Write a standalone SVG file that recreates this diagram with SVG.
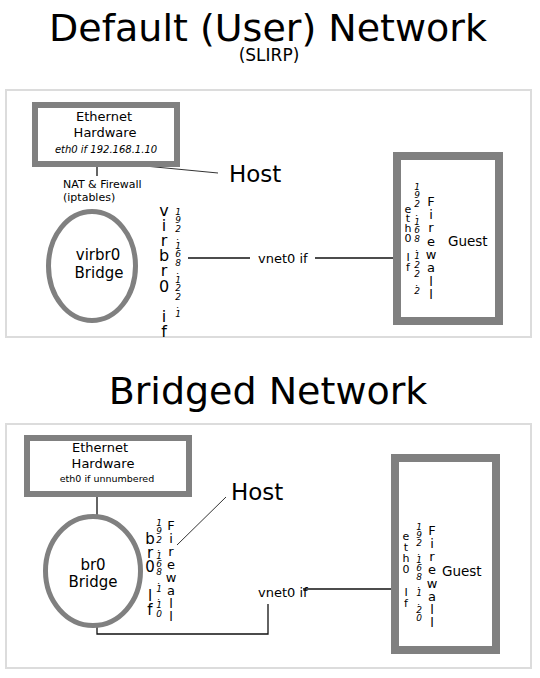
<svg xmlns="http://www.w3.org/2000/svg" width="540" height="678" viewBox="0 0 540 678">
<style>
text{font-family:"DejaVu Sans","Liberation Sans",sans-serif;fill:#000}
.title{font-size:38px;text-anchor:middle}
.frame{fill:none;stroke:#dcdcdc;stroke-width:2}
.box{fill:#fff;stroke:#808080}
.ell{fill:#fff;stroke:#808080;stroke-width:5}
.lbl{font-size:13px;text-anchor:middle}
.small{font-size:10px;text-anchor:middle}
.ital{font-style:italic}
.v{writing-mode:vertical-rl;text-orientation:upright}
.ipv{writing-mode:vertical-rl;text-orientation:upright;font-size:9px;font-style:italic}
.host{font-size:23px}
.conn{fill:none;stroke:#111;stroke-width:1.3}
.thin{fill:none;stroke:#333;stroke-width:1}
</style>
<rect width="540" height="678" fill="#fff"/>
<text class="title" x="268" y="41">Default (User) Network</text>
<text x="269" y="61" style="font-size:17px;text-anchor:middle">(SLIRP)</text>
<text class="title" x="268" y="404">Bridged Network</text>
<rect class="frame" x="6" y="90" width="525" height="247"/>
<rect class="frame" x="6" y="424" width="525" height="244"/>

<g id="connectors">
  <line class="conn" x1="97" y1="167" x2="97" y2="176"/>
  <line class="thin" x1="124" y1="164" x2="218" y2="173"/>
  <line class="conn" x1="188" y1="258" x2="250" y2="258"/>
  <line class="conn" x1="315" y1="258" x2="393" y2="258"/>
  <line class="conn" x1="97" y1="497" x2="97" y2="516"/>
  <line class="thin" x1="177" y1="545" x2="226" y2="497"/>
  <line class="conn" x1="303" y1="589" x2="391" y2="589"/>
  <polyline class="conn" points="268,604 268,634 97,634 97,626"/>
</g>

<g id="eth-hw-1">
  <rect class="box" x="35" y="105" width="142" height="59" stroke-width="6"/>
  <text class="lbl" x="104" y="121">Ethernet</text>
  <text class="lbl" x="105" y="137">Hardware</text>
  <text class="small ital" x="106" y="153">eth0 if 192.168.1.10</text>
</g>
<g id="nat">
  <text x="63" y="188" style="font-size:11px">NAT &amp; Firewall</text>
  <text x="63" y="201" style="font-size:11px">(iptables)</text>
</g>
<g id="host-1">
  <text class="host" x="229" y="182">Host</text>
</g>
<g id="virbr0">
  <ellipse class="ell" cx="92" cy="266" rx="43.5" ry="54.5"/>
  <text x="98" y="260" style="font-size:15px;text-anchor:middle">virbr0</text>
  <text x="99" y="278" style="font-size:15px;text-anchor:middle">Bridge</text>
  <text class="v" x="164" y="201.15" style="font-size:16px;letter-spacing:-3.92px">virbr0 if</text>
  <text class="ipv" x="178" y="206.65" style="letter-spacing:-1.48px">192.168.122.1</text>
</g>
<g id="vnet0-1">
  <text x="258" y="263" style="font-size:13px">vnet0 if</text>
</g>
<g id="guest-1">
  <rect class="box" x="397" y="156" width="102" height="165" stroke-width="8"/>
  <text x="448" y="246" style="font-size:13.5px">Guest</text>
  <text class="v" x="408" y="202.8" style="font-size:11px;letter-spacing:-3.3px">eth0 If</text>
  <text class="ipv" x="417" y="181.65" style="letter-spacing:-1.28px">192.168.122.2</text>
  <text class="v" x="431" y="193.94" style="font-size:13px;letter-spacing:-1.73px">Firewall</text>
</g>

<g id="eth-hw-2">
  <rect class="box" x="27" y="438" width="162" height="56" stroke-width="6"/>
  <text class="lbl" x="100" y="452">Ethernet</text>
  <text class="lbl" x="103" y="468">Hardware</text>
  <text x="107" y="482" style="font-size:9.5px;text-anchor:middle">eth0 if unnumbered</text>
</g>
<g id="host-2">
  <text class="host" x="231" y="500">Host</text>
</g>
<g id="br0">
  <ellipse class="ell" cx="93" cy="571" rx="47.5" ry="54.5"/>
  <text x="93" y="570" style="font-size:15px;text-anchor:middle">br0</text>
  <text x="93" y="587" style="font-size:15px;text-anchor:middle">Bridge</text>
  <text class="v" x="150" y="529.58" style="font-size:15px;letter-spacing:-3.76px">br0 lf</text>
  <text class="ipv" x="159" y="518.15" style="letter-spacing:-1.78px">192.168.1.10</text>
  <text class="v" x="171" y="517.94" style="font-size:13px;letter-spacing:-2.03px">Firewall</text>
</g>
<g id="vnet0-2">
  <text x="258" y="597" style="font-size:13px">vnet0 if</text>
</g>
<g id="guest-2">
  <rect class="box" x="395" y="458" width="101" height="192" stroke-width="8"/>
  <text x="442" y="576" style="font-size:13.5px">Guest</text>
  <text class="v" x="406" y="529.8" style="font-size:11px;letter-spacing:-1.8px">eth0 If</text>
  <text class="ipv" x="419" y="521.65" style="letter-spacing:-1.68px">192.168.1.20</text>
  <text class="v" x="432" y="522.94" style="font-size:13px;letter-spacing:-1.83px">Firewall</text>
</g>
</svg>
